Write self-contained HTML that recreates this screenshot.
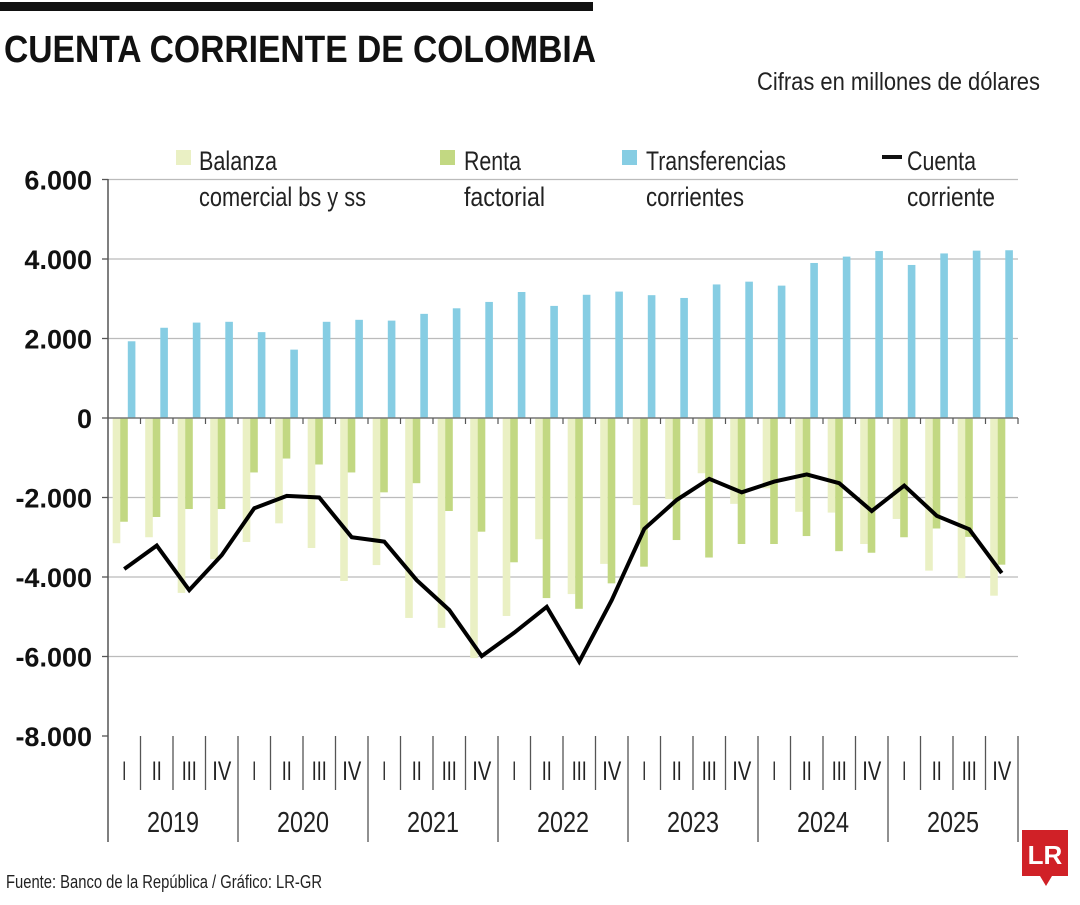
<!DOCTYPE html>
<html><head><meta charset="utf-8">
<style>
body{margin:0;background:#fff;width:1080px;height:900px;overflow:hidden;font-family:"Liberation Sans",sans-serif;}
svg text{font-family:"Liberation Sans",sans-serif;}
</style></head>
<body>
<svg id="chart" width="1080" height="900" viewBox="0 0 1080 900">
<rect x="0" y="2" width="593" height="9" fill="#111"/>
<text x="4" y="62" font-size="38" font-weight="bold" fill="#111" textLength="592" lengthAdjust="spacingAndGlyphs">CUENTA CORRIENTE DE COLOMBIA</text>
<text x="757" y="90" font-size="25" fill="#222" textLength="283" lengthAdjust="spacingAndGlyphs">Cifras en millones de dólares</text>
<g id="grid"></g>
<g id="bars"></g>
<g id="axes"></g>
<g id="legend">
<rect x="176" y="150" width="15" height="15" fill="#eaf0c4"/>
<text x="199" y="170" font-size="27" fill="#222" textLength="78" lengthAdjust="spacingAndGlyphs">Balanza</text>
<text x="199" y="206" font-size="27" fill="#222" textLength="167" lengthAdjust="spacingAndGlyphs">comercial bs y ss</text>
<rect x="440" y="150" width="15" height="15" fill="#c2d882"/>
<text x="464" y="170" font-size="27" fill="#222" textLength="57" lengthAdjust="spacingAndGlyphs">Renta</text>
<text x="464" y="206" font-size="27" fill="#222" textLength="81" lengthAdjust="spacingAndGlyphs">factorial</text>
<rect x="622" y="150" width="15" height="15" fill="#86cde3"/>
<text x="646" y="170" font-size="27" fill="#222" textLength="140" lengthAdjust="spacingAndGlyphs">Transferencias</text>
<text x="646" y="206" font-size="27" fill="#222" textLength="98" lengthAdjust="spacingAndGlyphs">corrientes</text>
<rect x="882" y="155" width="20" height="4" fill="#111"/>
<text x="907" y="170" font-size="27" fill="#222" textLength="69" lengthAdjust="spacingAndGlyphs">Cuenta</text>
<text x="907" y="206" font-size="27" fill="#222" textLength="88" lengthAdjust="spacingAndGlyphs">corriente</text>
</g>
<text x="6" y="888" font-size="18" fill="#222" textLength="316" lengthAdjust="spacingAndGlyphs">Fuente: Banco de la República / Gráfico: LR-GR</text>
<g>
<path d="M1022 830 H1068 V876 H1052 L1046 886 L1040 876 H1022 Z" fill="#d02127"/>
<text x="1045" y="864" font-size="26" font-weight="bold" fill="#fff" text-anchor="middle" font-family="Liberation Serif, serif">LR</text>
</g>
</svg>
<script>
const years = ["2019","2020","2021","2022","2023","2024","2025"];
const quarters = ["I","II","III","IV"];
const yTicks = [6000,4000,2000,0,-2000,-4000,-6000,-8000];
const yTickLabels = ["6.000","4.000","2.000","0","-2.000","-4.000","-6.000","-8.000"];
const balanza = [-3150,-3000,-4400,-3550,-3120,-2650,-3270,-4100,-3700,-5030,-5280,-6040,-4980,-3050,-4430,-3670,-2190,-2040,-1390,-2160,-1770,-2360,-2380,-3170,-2540,-3840,-4030,-4470];
const renta = [-2610,-2490,-2290,-2290,-1370,-1020,-1170,-1370,-1870,-1640,-2340,-2860,-3630,-4530,-4800,-4160,-3740,-3070,-3510,-3170,-3170,-2970,-3350,-3390,-3000,-2780,-2990,-3690];
const transferencias = [1930,2270,2400,2420,2160,1720,2420,2470,2450,2620,2760,2920,3170,2820,3100,3180,3090,3020,3360,3430,3330,3900,4060,4200,3850,4140,4210,4220];
const cuenta = [-3800,-3210,-4330,-3450,-2270,-1960,-2000,-3000,-3110,-4080,-4830,-5990,-5400,-4750,-6130,-4580,-2790,-2060,-1530,-1870,-1600,-1420,-1640,-2340,-1700,-2460,-2800,-3900];

const NS="http://www.w3.org/2000/svg";
const X0=108, X1=1018, n=balanza.length, qw=(X1-X0)/n;
const y=v=>418-(v/1000)*39.75;
const xq=i=>X0+i*qw;
const qLen=[4,10,15,19];
function mk(tag,attrs,parent){const e=document.createElementNS(NS,tag);for(const k in attrs)e.setAttribute(k,attrs[k]);parent.appendChild(e);return e;}
const grid=document.getElementById('grid'),bars=document.getElementById('bars'),axes=document.getElementById('axes');

yTicks.forEach((t,i)=>{
  if(t!==0&&t!==-8000){const l=mk('line',{x1:X0,x2:X1,y1:y(t),y2:y(t),stroke:'#bbb','stroke-width':1.3},grid);
  
  }
  const tk=mk('line',{x1:X0-6,x2:X0,y1:y(t),y2:y(t),stroke:'#555','stroke-width':1.3},axes);
  
  
  const tx=mk('text',{x:92,y:y(t)+10,'font-size':27,'font-weight':'bold','text-anchor':'end',fill:'#111'},axes);
  tx.textContent=yTickLabels[i];
  
  
});

const bw=7.6;
for(let i=0;i<n;i++){
  const x=xq(i);
  [[balanza[i],4.7,'#eaf0c4','bar-balanza'],[renta[i],12.2,'#c2d882','bar-renta'],[transferencias[i],19.8,'#86cde3','bar-transferencias']].forEach(([v,off,c,nm])=>{
    const r=mk('rect',{x:x+off,y:Math.min(y(v),y(0)),width:bw,height:Math.abs(y(v)-y(0)),fill:c},bars);
    
    
  });
}
const pts=cuenta.map((v,i)=>(xq(i)+qw/2)+','+y(v)).join(' ');
const pl=mk('polyline',{points:pts,fill:'none',stroke:'#000','stroke-width':4,'stroke-linejoin':'miter'},bars);



const zl=mk('line',{x1:X0,x2:X1,y1:y(0),y2:y(0),stroke:'#777','stroke-width':1.5},axes);


for(let i=1;i<=n;i++){
  const t=mk('line',{x1:xq(i),x2:xq(i),y1:y(0),y2:y(0)+6,stroke:'#555','stroke-width':1.2},axes);
  
  
}
const va=mk('line',{x1:X0,x2:X0,y1:179,y2:842,stroke:'#555','stroke-width':1.5},axes);


for(let i=0;i<n;i++){
  const isYear=(i%4===0);
  if(i>0){const s=mk('line',{x1:xq(i),x2:xq(i),y1:y(-8000),y2:isYear?842:790,stroke:'#555','stroke-width':1.3},axes);
  
  }
  const L=qLen[i%4];
  const q=mk('text',{x:xq(i)+qw/2-L/2,y:780,'font-size':27,fill:'#222',textLength:L,lengthAdjust:'spacingAndGlyphs'},axes);
  q.textContent=quarters[i%4];
  
  
}
const ve=mk('line',{x1:X1,x2:X1,y1:y(-8000),y2:842,stroke:'#555','stroke-width':1.3},axes);


years.forEach((yr,j)=>{
  const t=mk('text',{x:xq(j*4)+2*qw-26,y:832,'font-size':29,fill:'#222',textLength:52,lengthAdjust:'spacingAndGlyphs'},axes);
  t.textContent=yr;
  
  
});
</script>
</body></html>
